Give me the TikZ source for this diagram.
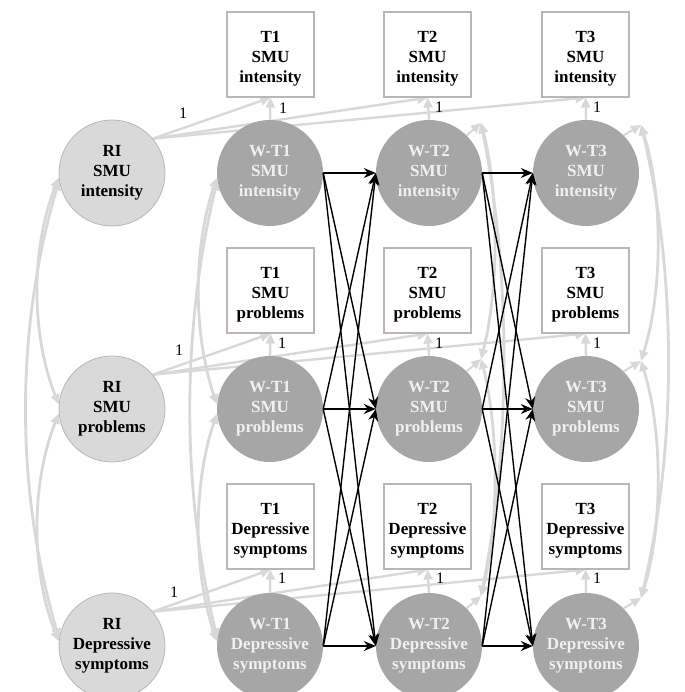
\documentclass[tikz,border=0pt]{standalone}
\usepackage{fontspec}
\setmainfont{Liberation Serif}
\usetikzlibrary{arrows.meta,calc}
\pgfdeclarelayer{bg}
\pgfsetlayers{bg,main}
\definecolor{lgray}{HTML}{D9D9D9}
\definecolor{wgray}{HTML}{A6A6A6}
\definecolor{bordergray}{HTML}{BDB5B5}
\definecolor{wtext}{HTML}{F0F0F0}
\definecolor{arrowgray}{HTML}{D8D8D8}
\newcommand{\topstrut}{\rule{0pt}{19pt}}
\begin{document}
\begin{tikzpicture}[x=1pt,y=-1pt,
 obs/.style={draw=bordergray, line width=1.2pt, fill=white, minimum width=87pt, minimum height=85pt, inner sep=0pt, align=center, font=\fontsize{17}{20}\selectfont\bfseries},
 ri/.style={circle, draw=bordergray, fill=lgray, line width=0.8pt, minimum size=106pt, inner sep=0pt, align=center, font=\fontsize{17}{20}\selectfont\bfseries},
 wn/.style={circle, fill=wgray, minimum size=106pt, inner sep=0pt, align=center, text=wtext, font=\fontsize{17}{20}\selectfont\bfseries},
 garr/.style={draw=arrowgray, line width=2.4pt, -{Triangle[length=10pt,width=9pt]}},
 gcov/.style={draw=arrowgray, line width=2.8pt, {Triangle[length=10pt,width=9pt]}-{Triangle[length=10pt,width=9pt]}},
 barr/.style={draw=black, line width=1.4pt, -{Stealth[length=12pt,width=10pt]}},
 one/.style={font=\fontsize{16}{16}\selectfont, inner sep=0pt}
]
\useasboundingbox (0,0) rectangle (684,692);

% observed boxes
\node[obs] (T1i) at (270.5,54.5) {\topstrut T1\\SMU\\intensity};
\node[obs] (T2i) at (427.5,54.5) {\topstrut T2\\SMU\\intensity};
\node[obs] (T3i) at (585.5,54.5) {\topstrut T3\\SMU\\intensity};
\node[obs] (T1p) at (270.5,290.5) {\topstrut T1\\SMU\\problems};
\node[obs] (T2p) at (427.5,290.5) {\topstrut T2\\SMU\\problems};
\node[obs] (T3p) at (585.5,290.5) {\topstrut T3\\SMU\\problems};
\node[obs] (T1d) at (270.5,526.5) {\topstrut T1\\Depressive\\symptoms};
\node[obs] (T2d) at (427.5,526.5) {\topstrut T2\\Depressive\\symptoms};
\node[obs] (T3d) at (585.5,526.5) {\topstrut T3\\Depressive\\symptoms};

% random intercepts
\node[ri] (RIi) at (112,173) {RI\\SMU\\intensity};
\node[ri] (RIp) at (112,409) {RI\\SMU\\problems};
\node[ri] (RId) at (112,646) {RI\\Depressive\\symptoms};

% within nodes
\node[wn] (W1i) at (270,173) {W-T1\\SMU\\intensity};
\node[wn] (W2i) at (429,173) {W-T2\\SMU\\intensity};
\node[wn] (W3i) at (586,173) {W-T3\\SMU\\intensity};
\node[wn] (W1p) at (270,409) {W-T1\\SMU\\problems};
\node[wn] (W2p) at (429,409) {W-T2\\SMU\\problems};
\node[wn] (W3p) at (586,409) {W-T3\\SMU\\problems};
\node[wn] (W1d) at (270,646) {W-T1\\Depressive\\symptoms};
\node[wn] (W2d) at (429,646) {W-T2\\Depressive\\symptoms};
\node[wn] (W3d) at (586,646) {W-T3\\Depressive\\symptoms};

% residual points
\coordinate (e2i) at ($(W2i)+(52,-50)$);
\coordinate (e2p) at ($(W2p)+(52,-50)$);
\coordinate (e2d) at ($(W2d)+(52,-50)$);
\coordinate (e3i) at ($(W3i)+(55,-48)$);
\coordinate (e3p) at ($(W3p)+(55,-48)$);
\coordinate (e3d) at ($(W3d)+(55,-48)$);

\begin{pgfonlayer}{bg}
% RI loadings
\foreach \r/\a in {i/40,p/40,d/40}{
  \draw[garr] (RI\r.\a) -- (T1\r.south);
  \draw[garr] (RI\r.\a) -- (T2\r.south);
  \draw[garr] (RI\r.\a) -- (T3\r.south);
}
% within loadings
\foreach \t in {1,2,3}{
  \foreach \r in {i,p,d}{
    \draw[garr] (W\t\r.north) -- (T\t\r.south);
  }
}
% residual arrows
\foreach \t in {2,3}{
  \foreach \r in {i,p,d}{
    \draw[garr, line width=2pt] (W\t\r.45) -- (e\t\r);
  }
}
% left covariances
\draw[gcov] (RIi.185) .. controls +(-28,70) and +(-28,-70) .. (RIp.175);
\draw[gcov] (RIp.185) .. controls +(-28,70) and +(-28,-70) .. (RId.175);
\draw[gcov] (RIi.188) .. controls +(-44,150) and +(-44,-150) .. (RId.172);
\draw[gcov] (W1i.185) .. controls +(-24,70) and +(-24,-70) .. (W1p.175);
\draw[gcov] (W1p.185) .. controls +(-24,70) and +(-24,-70) .. (W1d.175);
\draw[gcov] (W1i.188) .. controls +(-36,150) and +(-36,-150) .. (W1d.172);
% right covariances
\draw[gcov] (e2i) .. controls +(18,70) and +(18,-70) .. (e2p);
\draw[gcov] (e2p) .. controls +(18,70) and +(18,-70) .. (e2d);
\draw[gcov] (e2i) .. controls +(30,150) and +(30,-150) .. (e2d);
\draw[gcov] (e3i) .. controls +(22,70) and +(22,-70) .. (e3p);
\draw[gcov] (e3p) .. controls +(22,70) and +(22,-70) .. (e3d);
\draw[gcov] (e3i) .. controls +(36,150) and +(36,-150) .. (e3d);
\end{pgfonlayer}

% cross-lagged paths
\foreach \a in {i,p,d}{
  \foreach \b in {i,p,d}{
    \draw[barr] (W1\a.east) -- (W2\b.west);
    \draw[barr] (W2\a.east) -- (W3\b.west);
  }
}

% labels "1"
\node[one] (l1a) at (183,113) {1};
\node[one] (l1b) at (283,108) {1};
\node[one] (l1c) at (439,107) {1};
\node[one] (l1d) at (597,107) {1};
\node[one] (l2a) at (179,350) {1};
\node[one] (l2b) at (282,343) {1};
\node[one] (l2c) at (439,343) {1};
\node[one] (l2d) at (597,343) {1};
\node[one] (l3a) at (174,592) {1};
\node[one] (l3b) at (282,578) {1};
\node[one] (l3c) at (440,578) {1};
\node[one] (l3d) at (597,578) {1};
\end{tikzpicture}
\end{document}
